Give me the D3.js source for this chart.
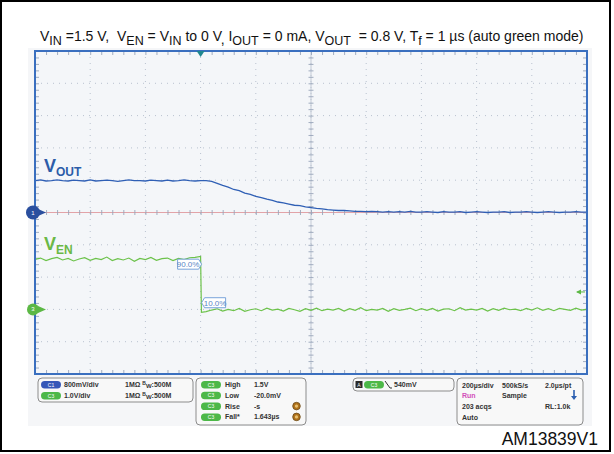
<!DOCTYPE html>
<html><head><meta charset="utf-8">
<script src="https://cdn.jsdelivr.net/npm/d3@7"></script>
<style>html,body{margin:0;padding:0;background:#fff;}svg{display:block;font-family:"Liberation Sans",Arial,sans-serif;}</style>
</head><body>
<script>
// ---- data ----
const timeDomainUs = [-600, 1400];          // 200 µs/div, 10 div
const c1Domain = [-4.0, 4.0];               // 800 mV/div, ground at center
const c3Domain = [-2.0, 8.0];               // 1.0 V/div, ground 2 div above bottom
const voutTimes = d3.range(-600, 1401, 20);
const voutValues = [
 0.79,0.81,0.78,0.79,0.81,0.79,0.78,0.80,0.79,0.78,0.81,0.78,0.79,0.80,0.79,0.77,0.79,0.81,0.79,0.79,0.78,0.80,0.79,0.78,0.80,0.78,0.79,0.81,0.79,0.78,0.79,
 0.79,0.77,0.72,0.67,0.63,0.57,0.54,0.48,0.45,0.40,
 0.37,0.33,0.30,0.26,0.24,0.21,0.18,0.17,0.14,0.12,
 0.10,0.09,0.07,0.06,0.05,0.05,0.04,0.03,0.03,0.02,
 0.03,0.02,0.01,0.02,0.01,0.02,0.01,0.03,0.01,0.01,
 0.02,0.01,0.00,0.02,0.01,0.01,0.02,0.00,0.01,0.02,
 0.01,0.00,0.01,0.01,0.02,0.00,0.01,0.01,0.02,0.01,
 0.00,0.01,0.02,0.01,0.00,0.01,0.01,0.02,0.01,0.01];
const venTimes = d3.range(-600, 1, 20).concat([3]).concat(d3.range(20, 1401, 20));
const venValues = [
 1.55,1.59,1.51,1.57,1.61,1.53,1.58,1.50,1.56,1.60,1.52,1.58,1.54,1.62,1.51,1.57,1.53,1.59,1.49,1.58,1.54,1.61,1.52,1.57,1.59,1.51,1.58,1.54,1.60,1.61,1.64,
 -0.09,
 -0.07,-0.02,0.02,-0.05,0.00,-0.04,0.03,-0.06,-0.01,0.02,-0.04,0.04,-0.02,0.01,-0.05,0.03,-0.01,-0.06,0.02,-0.03,
 0.04,-0.04,0.01,-0.02,0.03,-0.05,0.02,-0.03,0.05,-0.04,0.00,-0.02,0.03,-0.06,0.02,-0.03,0.00,0.04,-0.04,0.02,
 -0.03,0.03,-0.05,0.01,0.02,-0.04,0.05,-0.02,0.01,-0.02,0.03,-0.05,0.02,-0.03,0.04,-0.01,0.01,-0.04,0.03,-0.02,
 0.05,-0.03,0.02,-0.04,0.03,0.00,-0.03,0.04,-0.02,0.01];
const triggerLevelC3 = 0.54;
const marker90 = 1.40, marker10 = 0.30;
const channelRows = [
  {ch:"C1", color:"#3557b8", scale:"800mV/div", imp:"1MΩ", bw:"500M"},
  {ch:"C3", color:"#4db848", scale:"1.0V/div", imp:"1MΩ", bw:"500M"}];
const measRows = [
  {label:"High", value:"1.5V", icon:false},
  {label:"Low", value:"-20.0mV", icon:false},
  {label:"Rise", value:"-s", icon:true},
  {label:"Fall*", value:"1.643µs", icon:true}];
const timebaseRows = [
  ["200µs/div","500kS/s","2.0µs/pt"],
  ["Run","Sample",""],
  ["203 acqs","","RL:1.0k"],
  ["Auto","",""]];

// ---- layout ----
const W = 614, H = 454;
const L = 35, R = 587, T = 51, B = 374;
const svg = d3.select("body").append("svg").attr("width", W).attr("height", H);

svg.append("rect").attr("x",1).attr("y",1).attr("width",609).attr("height",450)
  .attr("fill","#fff").attr("stroke","#000").attr("stroke-width",2);
svg.append("rect").attr("x",28).attr("y",48).attr("width",564).attr("height",378).attr("fill","#f5f6f8");

const x = d3.scaleLinear().domain(timeDomainUs).range([L, R]);
const y1 = d3.scaleLinear().domain(c1Domain).range([B, T]);
const y3 = d3.scaleLinear().domain(c3Domain).range([B, T]);
const gridY = d3.scaleLinear().domain([0,10]).range([B, T]);

svg.append("rect").attr("x",L).attr("y",T).attr("width",R-L).attr("height",B-T).attr("fill","#f4f6f9");

// dotted grid
const divT = d3.range(-400, 1400, 200);
svg.append("g").selectAll("line").data(divT).join("line")
  .attr("x1", d=>x(d)).attr("x2", d=>x(d)).attr("y1",T).attr("y2",B)
  .attr("stroke","#b9c2cf").attr("stroke-dasharray","1,5").attr("stroke-width",1);
svg.append("g").selectAll("line").data(d3.range(1,10)).join("line")
  .attr("y1", d=>gridY(d)).attr("y2", d=>gridY(d)).attr("x1",L).attr("x2",R)
  .attr("stroke","#b9c2cf").attr("stroke-dasharray","1,5").attr("stroke-width",1);

// center lines
svg.append("line").attr("x1",x(400)).attr("x2",x(400)).attr("y1",T).attr("y2",B).attr("stroke","#c3cad6").attr("stroke-width",1);
svg.append("line").attr("x1",L).attr("x2",R).attr("y1",y1(0)).attr("y2",y1(0)).attr("stroke","#e2a3a8").attr("stroke-width",1);

// minor ticks via axes
const minorT = d3.range(-600, 1401, 40);
const minorV = d3.range(0, 10.01, 0.2);
function tickAxis(axis, tx, ty){
  const g = svg.append("g").attr("transform",`translate(${tx},${ty})`).call(axis);
  g.select(".domain").remove();
  g.selectAll("line").attr("stroke","#98a5ba").attr("stroke-width",0.9);
  g.selectAll("text").remove();
}
tickAxis(d3.axisBottom(x).tickValues(minorT).tickSize(4).tickFormat(""), 0, T);
tickAxis(d3.axisTop(x).tickValues(minorT).tickSize(4).tickFormat(""), 0, B);
tickAxis(d3.axisRight(gridY).tickValues(minorV).tickSize(4).tickFormat(""), L, 0);
tickAxis(d3.axisLeft(gridY).tickValues(minorV).tickSize(4).tickFormat(""), R, 0);
// center crosshair ticks
tickAxis(d3.axisBottom(x).tickValues(minorT).tickSize(5).tickFormat(""), 0, y1(0)-2.5);
tickAxis(d3.axisRight(gridY).tickValues(minorV).tickSize(5).tickFormat(""), x(400)-2.5, 0);

// traces
const line1 = d3.line().x((d,i)=>x(voutTimes[i])).y(d=>y1(d));
const line3 = d3.line().x((d,i)=>x(venTimes[i])).y(d=>y3(d));
svg.append("path").datum(voutValues).attr("d",line1).attr("fill","none").attr("stroke","#2f5fb5").attr("stroke-width",1.3);
svg.append("path").datum(venValues).attr("d",line3).attr("fill","none").attr("stroke","#6cc24a").attr("stroke-width",1.2);

// plot frame
svg.append("rect").attr("x",L).attr("y",T).attr("width",R-L).attr("height",B-T)
  .attr("fill","none").attr("stroke","#3a6fbf").attr("stroke-width",2);

// trigger position marker
svg.append("path").attr("d",`M${x(0)-4},${T} L${x(0)+4},${T} L${x(0)},${T+6} Z`).attr("fill","#1f8790");
// trigger level arrow C3
const ty = y3(triggerLevelC3);
svg.append("line").attr("x1",R-10).attr("x2",R-2).attr("y1",ty).attr("y2",ty).attr("stroke","#5cb845").attr("stroke-width",1);
svg.append("path").attr("d",`M${R-11},${ty} L${R-6},${ty-2.5} L${R-6},${ty+2.5} Z`).attr("fill","#5cb845");

// ground markers
function gnd(yv, color, lbl, r){
  svg.append("path").attr("d",`M${L+3},${yv-3.5} L${L+11},${yv} L${L+3},${yv+3.5} Z`).attr("fill",color);
  svg.append("circle").attr("cx",L-2).attr("cy",yv).attr("r",r).attr("fill",color);
  svg.append("text").attr("x",L-2).attr("y",yv+2).attr("text-anchor","middle").attr("font-size",6).attr("fill","#fff").text(lbl);
}
gnd(y1(0), "#2a4f9e", "1", 7);
gnd(y3(0), "#5cb845", "3", 6);

// 90% / 10% markers
function flag(xr, yv, txt, pointRight){
  const w = 24, h = 10;
  let d;
  if (pointRight) { const x0 = xr - w; d = `M${x0},${yv-h/2} L${xr-3},${yv-h/2} L${xr},${yv} L${xr-3},${yv+h/2} L${x0},${yv+h/2} Z`; }
  else { const x0 = xr; d = `M${x0+3},${yv-h/2} L${x0+w},${yv-h/2} L${x0+w},${yv+h/2} L${x0+3},${yv+h/2} L${x0},${yv} Z`; }
  svg.append("path").attr("d",d).attr("fill","#fff").attr("stroke","#6b9bd6").attr("stroke-width",0.9);
  svg.append("text").attr("x", pointRight ? xr-w/2-1.5 : xr+w/2+1.5).attr("y",yv+3).attr("text-anchor","middle")
    .attr("font-size",8).attr("fill","#5a86c6").text(txt);
}
flag(x(0)+1, y3(marker90), "90.0%", true);
flag(x(0)+1, y3(marker10)+3, "10.0%", false);

// channel labels
function chLabel(xp, yp, main, sub, color){
  const t = svg.append("text").attr("x",xp).attr("y",yp).attr("fill",color).attr("font-weight","bold").attr("font-size",18);
  t.append("tspan").text(main);
  t.append("tspan").attr("font-size",12).attr("dy",4).text(sub);
}
chLabel(44, 172, "V", "OUT", "#2c5ca8");
chLabel(44, 250, "V", "EN", "#6ab845");

// title
const title = svg.append("text").attr("x",40).attr("y",41).attr("font-size",14).attr("fill","#111");
const parts = [["V",0],["IN",1],[" =1.5 V,  V",0],["EN",1],[" = V",0],["IN",1],[" to 0 V",0],[", ",2],["I",0],["OUT",1],[" = 0 mA, V",0],["OUT",1],["  = 0.8 V, T",0],["f",1],[" = 1 µs (auto green mode)",0]];
let cur = 0;
parts.forEach(([s,k])=>{
  const target = k===1 ? 3.5 : (k===2 ? 3 : 0);
  const ts = title.append("tspan").attr("dy", target-cur).attr("xml:space","preserve").style("white-space","pre").text(s);
  if (k===1) ts.attr("font-size",12.5);
  cur = target;
});

// bottom panels
function box(x0,y0,w,h){ svg.append("rect").attr("x",x0).attr("y",y0).attr("width",w).attr("height",h).attr("rx",4)
  .attr("fill","#f8f8f8").attr("stroke","#8c8c8c").attr("stroke-width",1); }
function pill(x0,yc,color,lbl){
  svg.append("rect").attr("x",x0).attr("y",yc-3.5).attr("width",20).attr("height",7.5).attr("rx",3.7).attr("fill",color);
  svg.append("text").attr("x",x0+10).attr("y",yc+2).attr("text-anchor","middle").attr("font-size",5).attr("fill","#fff").text(lbl);
}
const ptxt = (xp,yp,s,col)=>svg.append("text").attr("x",xp).attr("y",yp).attr("font-size",7).attr("font-weight","bold").attr("fill",col||"#333").text(s);

box(38,378,155,24);
channelRows.forEach((r,i)=>{
  const yc = 384.5 + i*11;
  pill(41, yc, r.color, r.ch);
  ptxt(64, yc+2.5, r.scale);
  const t = ptxt(125, yc+2.5, r.imp+" ");
  t.append("tspan").attr("font-size",5).attr("dy",-2).text("B");
  t.append("tspan").attr("font-size",6).attr("dy",3).text("W");
  t.append("tspan").attr("dy",-1).text(":"+r.bw);
});

box(196,378,110,47);
measRows.forEach((r,i)=>{
  const yc = 384.5 + i*10.8;
  pill(201, yc, "#4db848", "C3");
  ptxt(225, yc+2.5, r.label);
  ptxt(254, yc+2.5, r.value);
  if (r.icon){
    svg.append("circle").attr("cx",296.5).attr("cy",yc).attr("r",3.8).attr("fill","#b0721a").attr("stroke","#6a4a1a").attr("stroke-width",0.8);
    svg.append("circle").attr("cx",296.5).attr("cy",yc).attr("r",1.6).attr("fill","#e8c070");
  }
});

box(353,378,101,13);
svg.append("rect").attr("x",355.5).attr("y",381).attr("width",7).attr("height",7).attr("fill","#2a2a2a");
svg.append("text").attr("x",359).attr("y",387).attr("text-anchor","middle").attr("font-size",5).attr("fill","#fff").text("A");
pill(364, 384.5, "#4db848", "C3");
svg.append("path").attr("d","M385,381 L390,388 L392,388").attr("fill","none").attr("stroke","#333").attr("stroke-width",1);
ptxt(394, 387, "540mV");

box(457,378,126,47);
timebaseRows.forEach((row,i)=>{
  const yp = 387.5 + i*10.8;
  [462, 502, 545].forEach((xp,j)=>{ if(row[j]) ptxt(xp, yp, row[j], (i===1&&j===0) ? "#d24fb8" : "#333"); });
});
svg.append("line").attr("x1",574).attr("x2",574).attr("y1",390).attr("y2",397).attr("stroke","#2c5fb0").attr("stroke-width",1.6);
svg.append("path").attr("d","M571,396 L577,396 L574,400 Z").attr("fill","#2c5fb0");

svg.append("text").attr("x",598).attr("y",445).attr("text-anchor","end").attr("font-size",17.5).attr("fill","#111").text("AM13839V1");
</script>
</body></html>
